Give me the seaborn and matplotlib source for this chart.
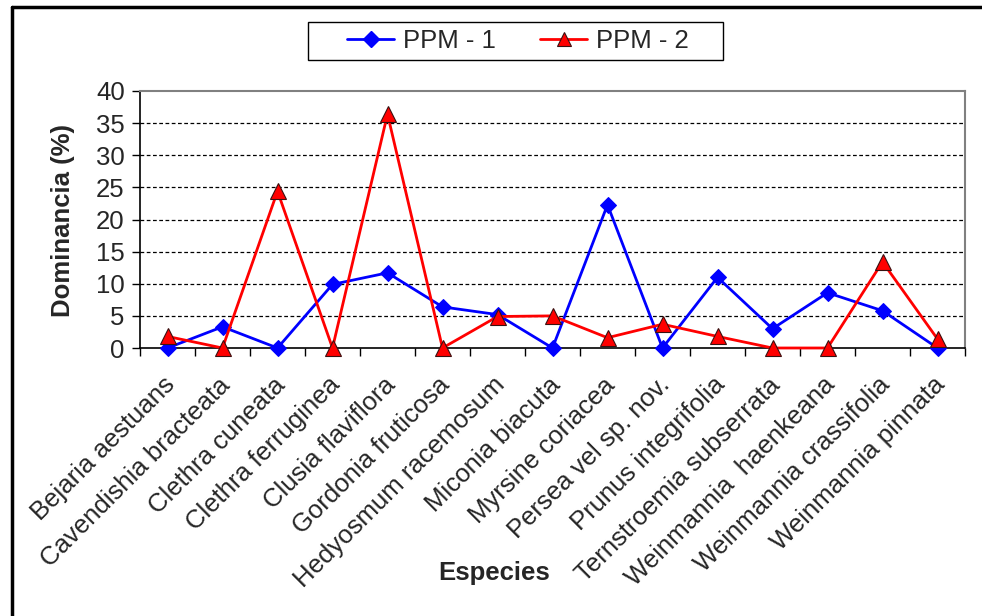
import numpy as np
import pandas as pd
import matplotlib
matplotlib.use("Agg")
import matplotlib.pyplot as plt
import seaborn as sns
from matplotlib.lines import Line2D
from matplotlib.patches import Rectangle

especies = ["Bejaria aestuans", "Cavendishia bracteata", "Clethra cuneata",
            "Clethra ferruginea", "Clusia flaviflora", "Gordonia fruticosa",
            "Hedyosmum racemosum", "Miconia biacuta", "Myrsine coriacea",
            "Persea vel sp. nov.", "Prunus integrifolia", "Ternstroemia subserrata",
            "Weinmannia  haenkeana", "Weinmannia crassifolia", "Weinmannia pinnata"]
ppm1 = [0, 3.3, 0, 9.9, 11.7, 6.4, 5.2, 0, 22.3, 0, 11.0, 3.0, 8.6, 5.8, 0]
ppm2 = [1.8, 0, 24.4, 0, 36.4, 0, 4.9, 5.0, 1.6, 3.7, 1.8, 0, 0, 13.4, 1.4]
series_names = ["PPM - 1", "PPM - 2"]
yticks = [0, 5, 10, 15, 20, 25, 30, 35, 40]

sns.set_theme(style="white")
plt.rcParams['font.family'] = ['Liberation Sans', 'DejaVu Sans']

df = pd.DataFrame({
    "pos": list(range(len(especies))) * 2,
    "val": ppm1 + ppm2,
    "serie": [series_names[0]] * len(especies) + [series_names[1]] * len(especies),
})

FS = 18.5
fig = plt.figure(figsize=(9.82, 6.16), dpi=100)
ax = fig.add_axes([140/982, 1-348/616, (965-140)/982, (348-91)/616])

d1 = df[df.serie == series_names[0]]
d2 = df[df.serie == series_names[1]]
sns.lineplot(data=d1, x="pos", y="val", ax=ax, color="#0000FF", lw=2,
             marker="D", markersize=8, markeredgecolor="#0000FF", zorder=3,
             clip_on=False, legend=False)
sns.lineplot(data=d2, x="pos", y="val", ax=ax, color="#FF0000", lw=2,
             marker="^", markersize=11, markeredgecolor="#3a1010",
             markeredgewidth=0.8, zorder=4, clip_on=False, legend=False)

ax.set_xlim(-0.5, len(especies) - 0.5)
ax.set_ylim(0, 40)
ax.set_yticks(yticks)
ax.set_yticklabels([str(t) for t in yticks], fontsize=FS)
label_shift = 0.07  # small rightward nudge of the rotated labels
ax.set_xticks(np.arange(len(especies)) + label_shift)
ax.set_xticklabels(especies, rotation=45, ha="right", va="center",
                   rotation_mode="anchor", fontsize=FS)
ax.set_xticks(np.arange(-0.5, len(especies), 1), minor=True)
ax.tick_params(axis="x", which="major", length=0, pad=24)
ax.tick_params(axis="x", which="minor", length=6, width=1, color="black", direction="out", bottom=True)
ax.tick_params(axis="y", which="major", length=6, width=1, color="black", direction="out", left=True, pad=5)

for t in yticks[1:-1]:
    ax.axhline(t, color="black", lw=0.9, ls=(0, (3, 2)), zorder=1)

for s in ["left", "bottom"]:
    ax.spines[s].set_color("black")
    ax.spines[s].set_linewidth(1.2)
for s in ["top", "right"]:
    ax.spines[s].set_color("#808080")
    ax.spines[s].set_linewidth(1.5)

ax.set_xlabel("")
ax.set_ylabel("")
fig.text(63/982, 1-220/616, "Dominancia (%)", fontsize=FS, fontweight="bold",
         ha="center", va="center", rotation=90)
fig.text(494/982, 1-573/616, "Especies", fontsize=FS, fontweight="bold",
         ha="center", va="center")

handles = [Line2D([], [], color="#0000FF", lw=2, marker="D", markersize=8,
                  markeredgecolor="#0000FF"),
           Line2D([], [], color="#FF0000", lw=2, marker="^", markersize=10,
                  markeredgecolor="#3a1010", markeredgewidth=0.8)]
leg = fig.legend(handles, series_names, loc="center",
                 bbox_to_anchor=(518/982, 1-41/616), ncol=2, fontsize=FS,
                 frameon=False, handlelength=1.85,
                 columnspacing=1.7, borderpad=0.3, handletextpad=0.35)
fig.add_artist(Rectangle((308/982, 1-60/616), (723-308)/982, 38/616,
                         transform=fig.transFigure, fill=False,
                         edgecolor="black", lw=1.0))

# figure border (left and top)
fig.add_artist(Line2D([12/982, 12/982], [0, 1-7/616], transform=fig.transFigure,
                      color="black", lw=2.5))
fig.add_artist(Line2D([12/982, 1], [1-7/616, 1-7/616], transform=fig.transFigure,
                      color="black", lw=2.5))

fig.savefig("out.png", dpi=100)
